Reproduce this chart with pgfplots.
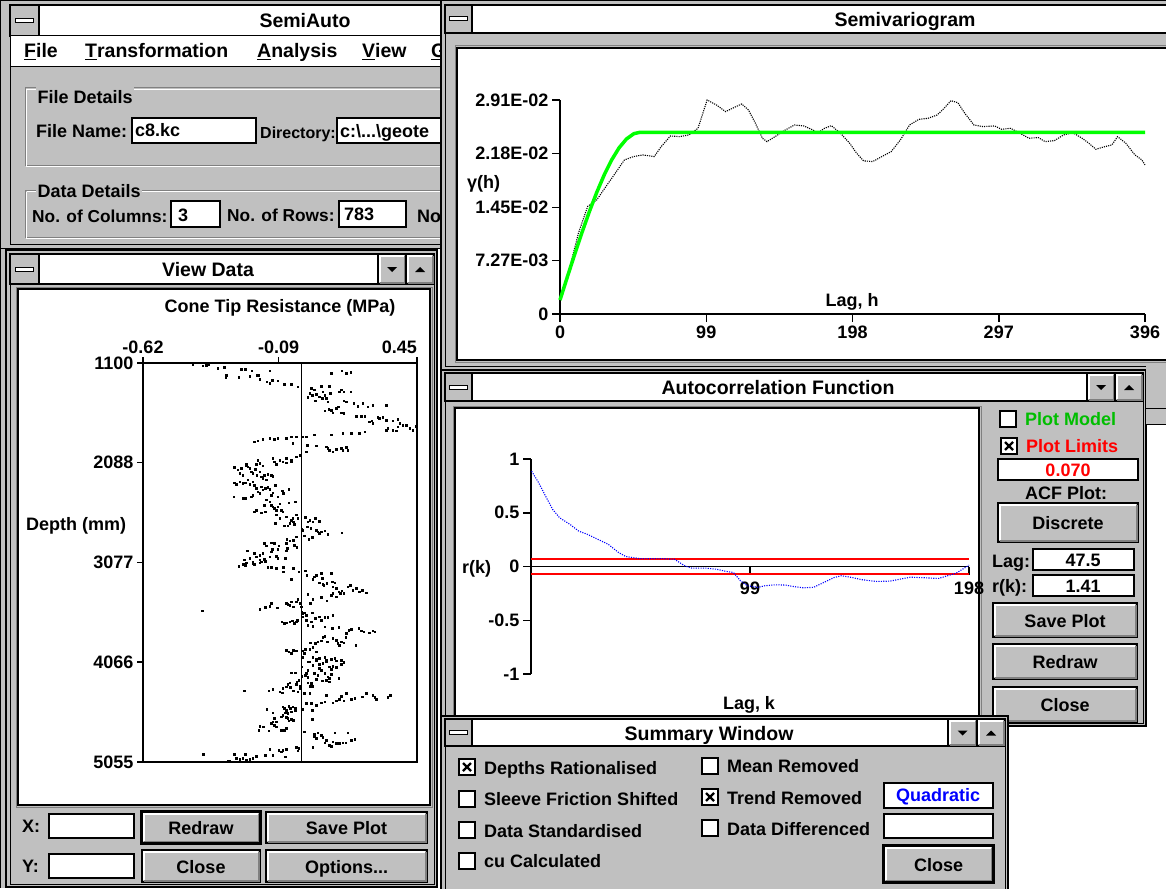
\documentclass[border=0pt]{standalone}
\usepackage{fontspec}
\setmainfont{Liberation Sans}
\usepackage{pgfplots}
\pgfplotsset{compat=1.18}
\definecolor{wgrey}{RGB}{192,192,192}
\definecolor{wdark}{RGB}{128,128,128}
\definecolor{mgreen}{RGB}{0,255,0}
\definecolor{tgreen}{RGB}{0,190,0}
\newcommand\tf{\fontsize{18}{21}\selectfont\bfseries}
\newcommand\tif{\fontsize{19.5}{23}\selectfont\bfseries}
\newcommand\mf{\fontsize{19.5}{23}\selectfont\bfseries}
\tikzset{px/.style={x=1pt,y=-1pt},
  t/.style={font=\tf,inner sep=0pt,anchor=base west},
  tc/.style={font=\tf,inner sep=0pt,anchor=base},
  ttl/.style={font=\tif,inner sep=0pt,anchor=base}}
\newcommand\frm[8]{\draw[line width=1.2pt,fill=wgrey] (#1,#2) rectangle (#3,#4);
  \draw[line width=1pt] (#5,#6) rectangle (#7,#8);}
\newcommand\tbar[4]{\draw[line width=1.2pt,fill=white] (#1,#2) rectangle (#3,#4);}
\newcommand\sysbox[4]{\draw[line width=1.2pt,fill=wgrey] (#1,#2) rectangle (#3,#4);
  \draw[line width=1pt,fill=white] ({(#1+#3)/2-9},{(#2+#4)/2-2}) rectangle ({(#1+#3)/2+9},{(#2+#4)/2+2});}
\newcommand\raised[4]{\draw[line width=1.2pt,fill=wgrey] (#1,#2) rectangle (#3,#4);
  \draw[white,line width=2pt] (#1+2,#4-2)--(#1+2,#2+2)--(#3-2,#2+2);
  \draw[wdark,line width=2pt] (#1+2,#4-1.5)--(#3-1.5,#4-1.5)--(#3-1.5,#2+2);}
\newcommand\dnbtn[4]{\raised{#1}{#2}{#3}{#4}
  \fill ({(#1+#3)/2-5},{(#2+#4)/2-2}) -- ++(10,0) -- ++(-5,5) -- cycle;}
\newcommand\upbtn[4]{\raised{#1}{#2}{#3}{#4}
  \fill ({(#1+#3)/2-5},{(#2+#4)/2+3}) -- ++(10,0) -- ++(-5,-5) -- cycle;}
\newcommand\btn[5]{\raised{#1}{#2}{#3}{#4}
  \node[tc] at ({(#1+#3)/2},{(#2+#4)/2+7}) {#5};}
\newcommand\dbtn[5]{\btn{#1}{#2}{#3}{#4}{#5}\draw[line width=2.4pt] (#1-0.5,#2-0.5) rectangle (#3+0.5,#4+0.5);}
\newcommand\tbox[4]{\draw[line width=1.2pt,fill=white] (#1,#2) rectangle (#3,#4);}
\newcommand\cbox[2]{\draw[line width=1.2pt,fill=white] (#1,#2) rectangle ++(16,16);}
\newcommand\cboxx[2]{\cbox{#1}{#2}\draw[line width=2.2pt] (#1+4,#2+4) -- ++(8,8) (#1+12,#2+4) -- ++(-8,8);}
\newcommand\gbox[4]{\draw[wdark,line width=1pt] (#1,#2) rectangle (#3,#4);
  \draw[white,line width=1pt] (#1+1.5,#2+1.5) -- (#3+1.5,#2+1.5) (#1+1.5,#2+1.5) -- (#1+1.5,#4+1.5) -- (#3+1.5,#4+1.5);}
\begin{document}
\begin{tikzpicture}
\begin{scope}[px]
\fill[white] (0,0) rectangle (1166,888);
\fill[wgrey] (0,249) rectangle (6,888);
\draw[line width=1pt] (0,249) -- (0,888);
% ---------- SemiAuto window
\frm{0.6}{0.6}{470}{248.4}{10}{5}{466}{244}
\tbar{10}{5}{470}{36}
\sysbox{10}{5}{39}{36}
\node[ttl] at (305,28) {SemiAuto};
\draw[line width=1pt,fill=white] (10,36) rectangle (470,67);
\node[t,font=\mf] at (24,58) {\underline{F}ile};
\node[t,font=\mf] at (85,58) {\underline{T}ransformation};
\node[t,font=\mf] at (257,58) {\underline{A}nalysis};
\node[t,font=\mf] at (362,58) {\underline{V}iew};
\node[t,font=\mf] at (431,58) {\underline{G}};
\gbox{25}{88}{470}{165}
\node[t,fill=wgrey,inner xsep=1.5pt,inner ysep=3pt] at (36,103) {File Details};
\node[t] at (36,137) {File Name:};
\tbox{132}{118}{256}{143}
\node[t] at (135,136) {c8.kc};
\node[t,font=\fontsize{16}{19}\selectfont\bfseries] at (260,138) {Directory:};
\tbox{337}{118}{470}{143}
\node[t] at (340,137) {c:\textbackslash...\textbackslash geote};
\gbox{25}{190}{470}{237}
\node[t,fill=wgrey,inner xsep=1.5pt,inner ysep=2pt] at (36,197) {Data Details};
\node[t,font=\fontsize{17.3}{20}\selectfont\bfseries] at (32,222) {No. of Columns:};
\tbox{171}{201}{220}{227}
\node[t] at (178,221) {3};
\node[t,font=\fontsize{17.3}{20}\selectfont\bfseries] at (227,221) {No. of Rows:};
\tbox{339}{201}{406}{227}
\node[t] at (344,220) {783};
\node[t] at (417,222) {No};
% ---------- View Data window
\frm{6}{250}{437}{887}{10}{254}{434}{884}
\tbar{10}{254}{434}{284}
\sysbox{10}{254}{39}{284}
\dnbtn{378}{254}{406}{284}
\upbtn{406}{254}{434}{284}
\node[ttl] at (208,276) {View Data};
\draw[wdark,line width=1pt] (16,287) rectangle (432,807);
\draw[line width=1.5pt,fill=white] (18,289) rectangle (430,805);
\node[tc] at (280,312) {Cone Tip Resistance (MPa)};
\node[t] at (26,530) {Depth (mm)};
\node[t] at (22,832) {X:};
\tbox{49}{814}{134}{838}
\dbtn{142}{812}{260}{843}{Redraw}
\btn{266}{812}{427}{843}{Save Plot}
\node[t] at (22,872) {Y:};
\tbox{49}{854}{134}{878}
\btn{142}{850}{260}{882}{Close}
\btn{266}{850}{427}{882}{Options...}
\end{scope}
% ---------- View Data plot
\begin{axis}[at={(143pt,-762pt)}, anchor=south west, scale only axis,
  width=274pt, height=399pt,
  xmin=-0.62, xmax=0.45, ymin=1100, ymax=5055, y dir=reverse,
  axis line style={line width=1.5pt},
  xtick={-0.62,-0.09,0.45}, xticklabels={-0.62,-0.09,{\makebox[0pt][r]{0.45}}},
  xtick pos=right, xticklabel pos=right,
  ytick={1100,2088,3077,4066,5055}, yticklabels={1100,2088,3077,4066,5055},
  ytick pos=left,
  tick align=outside, major tick length=6pt,
  every tick/.style={black,line width=1.5pt},
  tick label style={font=\tf},
  clip=false]
\addplot[black,line width=1.3pt] coordinates {(0,1100) (0,5055)};
\addplot[only marks, mark=square*, mark size=0.75pt, black] coordinates {
(-0.426,1110)(-0.387,1129)(-0.374,1120)(-0.365,1110)(-0.328,1153)(-0.302,1143)(-0.296,1219)(-0.298,1242)(-0.247,1242)(-0.237,1159)(-0.220,1159)(-0.204,1229)(-0.195,1176)(-0.176,1219)(-0.168,1219)(-0.165,1262)(-0.126,1176)(-0.137,1285)(-0.126,1301)(-0.116,1268)(-0.094,1275)(-0.068,1308)(-0.042,1308)(-0.016,1334)
(0.115,1202)(0.156,1176)(0.173,1202)(0.191,1189)(0.036,1351)(0.049,1367)(0.030,1400)(0.040,1417)(0.056,1407)(0.076,1328)(0.082,1384)(0.089,1417)(0.095,1450)(0.108,1328)(0.111,1400)(0.023,1440)(0.053,1473)(0.069,1433)(0.079,1450)(0.102,1483)(0.147,1384)(0.154,1367)(0.164,1384)(0.191,1384)(0.164,1473)(0.173,1483)(0.203,1500)(0.219,1526)(0.238,1500)(0.258,1533)(0.277,1516)(0.329,1516)(0.089,1572)(0.105,1559)(0.115,1566)(0.121,1592)(0.134,1549)(0.143,1533)(0.154,1592)(0.163,1599)(0.212,1625)(0.232,1625)(0.245,1625)(0.264,1681)(0.273,1671)(0.277,1698)(0.297,1638)(0.303,1648)(0.316,1638)(0.329,1665)(0.355,1671)(0.375,1658)(0.382,1698)(0.395,1714)(0.408,1714)(0.421,1747)(0.434,1764)(0.444,1724)(0.329,1764)(0.336,1747)(0.355,1764)(0.375,1731)(0.368,1770)
(-0.185,1880)(-0.172,1870)(-0.152,1856)(-0.126,1846)(-0.107,1856)(-0.094,1846)(-0.061,1846)(-0.042,1830)(-0.035,1896)(-0.022,1830)(0.004,1830)(0.017,1830)(0.049,1813)(0.115,1813)(0.160,1797)(0.193,1797)(0.225,1797)(0.245,1780)
(0.021,1913)(0.056,1922)(0.095,1929)(0.102,1946)(0.108,1962)(0.121,1979)(0.134,1955)(0.154,1946)(0.160,1962)(0.173,1936)(0.180,1962)(0.017,1979)
(-0.217,2101)(-0.172,2061)(-0.165,2094)(-0.113,2045)(-0.107,2078)(-0.087,2061)(-0.074,2078)(-0.061,2045)(-0.042,2061)(-0.022,2028)(-0.009,2012)
(-0.107,2078)(-0.100,2101)(-0.074,2078)(-0.061,2087)(-0.042,2071)(-0.178,2101)(-0.165,2094)(-0.152,2120)
(-0.263,2134)(-0.250,2160)(-0.243,2193)(-0.237,2144)(-0.230,2210)(-0.217,2111)(-0.211,2127)(-0.204,2144)(-0.198,2177)(-0.191,2193)(-0.181,2154)(-0.176,2210)(-0.165,2177)(-0.159,2226)(-0.146,2210)(-0.133,2200)(-0.120,2210)(-0.113,2220)(-0.139,2259)(-0.152,2243)
(-0.263,2286)(-0.257,2299)(-0.243,2276)(-0.230,2292)(-0.220,2286)(-0.211,2259)(-0.204,2299)(-0.191,2276)(-0.185,2309)(-0.178,2342)(-0.172,2375)(-0.165,2391)(-0.159,2325)(-0.152,2358)(-0.142,2342)(-0.133,2332)(-0.126,2352)(-0.120,2408)(-0.113,2385)(-0.103,2309)(-0.094,2424)(-0.077,2365)(-0.072,2391)(-0.051,2352)
(-0.266,2424)(-0.230,2441)(-0.220,2441)(-0.198,2424)(-0.191,2408)(-0.139,2457)(-0.126,2474)(-0.120,2507)(-0.113,2524)(-0.107,2540)(-0.100,2557)(-0.094,2524)(-0.087,2497)(-0.081,2557)(-0.074,2573)(-0.051,2484)(-0.025,2474)(-0.146,2507)(-0.178,2557)(-0.185,2573)(-0.159,2583)(-0.142,2573)
(-0.100,2606)(-0.103,2689)(-0.087,2639)(-0.061,2623)(-0.068,2715)(-0.055,2715)(-0.048,2689)(-0.042,2656)(-0.035,2639)(-0.033,2672)(-0.029,2699)(-0.022,2606)(-0.016,2639)
(0.014,2629)(0.023,2672)(0.030,2656)(0.043,2672)(0.052,2639)(0.069,2666)(0.021,2722)(0.034,2738)(0.056,2755)(0.063,2771)(0.069,2788)(0.076,2771)(0.089,2761)(0.102,2795)(0.156,2781)(0.004,2755)(0.000,2748)(0.010,2814)(0.027,2844)(0.040,2828)
(-0.022,2821)(-0.033,2854)(-0.048,2861)(-0.059,2847)(-0.061,2887)(-0.029,2904)(-0.020,2927)(-0.057,2937)(-0.061,2960)(-0.090,2913)(-0.094,2946)(-0.107,2887)(-0.120,2880)(-0.146,2887)(-0.139,2913)(-0.116,2946)(-0.120,2970)(-0.152,2986)(-0.165,3003)(-0.178,3019)(-0.185,2986)(-0.214,2960)(-0.204,3036)(-0.224,3052)(-0.217,3079)(-0.191,3069)(-0.165,3052)(-0.146,3046)(-0.126,3019)(-0.100,3013)(-0.094,3036)(-0.065,3036)
(-0.246,3112)(-0.228,3093)(-0.220,3103)(-0.215,3079)(-0.191,3086)(-0.185,3093)(-0.165,3079)(-0.159,3070)(-0.142,3063)(-0.133,3126)(-0.120,3126)(-0.100,3136)(-0.072,3126)(-0.072,3169)(-0.033,3136)(-0.012,3169)(-0.042,3245)
(0.014,3159)(0.020,3202)(0.043,3245)(0.049,3218)(0.056,3202)(0.076,3185)(0.079,3235)(0.082,3291)(0.069,3278)(0.085,3301)(0.098,3284)(0.115,3185)(0.118,3268)(0.128,3278)(0.121,3317)(0.134,3334)(0.145,3367)(0.151,3383)(0.156,3357)(0.163,3383)(0.180,3317)(0.189,3301)(0.199,3350)(0.212,3334)(0.225,3367)(0.251,3377)(0.236,3350)(0.121,3383)(0.115,3400)(0.134,3416)(0.076,3423)(0.043,3443)(0.033,3483)(0.023,3390)(0.098,3456)
(-0.389,3555)(-0.165,3542)(-0.142,3522)(-0.126,3509)(-0.120,3483)(-0.096,3525)(-0.061,3483)(-0.055,3489)(-0.048,3499)(-0.042,3466)(-0.033,3516)(-0.022,3466)(-0.016,3443)(-0.009,3483)(-0.003,3516)(0.000,3565)(0.004,3582)(0.010,3575)(0.017,3598)(0.004,3615)(0.040,3575)(-0.078,3664)(-0.068,3681)(-0.059,3674)(-0.048,3664)(-0.038,3654)(-0.029,3681)(-0.022,3664)(-0.018,3648)
(0.017,3648)(0.036,3664)(0.053,3631)(0.069,3615)(0.076,3648)(0.089,3621)(0.102,3621)(0.121,3598)(0.023,3697)(0.043,3707)(0.089,3714)(0.118,3730)(0.145,3720)(0.173,3780)(0.184,3747)(0.193,3740)(0.223,3730)(0.232,3753)(0.241,3763)(0.264,3773)(0.277,3753)(0.284,3763)(0.089,3806)(0.082,3820)(0.076,3853)(0.063,3862)(0.053,3879)(0.033,3872)(0.043,3919)(0.014,3938)(0.099,3862)(0.121,3829)(0.134,3846)(0.141,3879)(0.147,3896)(0.154,3862)(0.171,3820)(0.163,3872)(0.210,3896)
(-0.061,3945)(-0.051,3962)(-0.042,3978)(-0.033,3945)(-0.022,3952)(0.004,3952)(0.010,3978)(0.030,3938)(0.056,3962)(0.043,4018)(0.056,4038)(0.069,4028)(0.089,4018)(0.095,4044)(0.115,4038)(0.128,4028)(0.134,4051)(0.154,4044)(0.163,4061)(0.004,4018)(0.023,4061)(0.082,4077)
(0.030,4061)(0.043,4094)(0.056,4051)(0.069,4084)(0.082,4070)(0.095,4061)(0.108,4110)(0.115,4137)(0.121,4103)(0.134,4117)(0.154,4084)(0.163,4070)(0.069,4127)(0.076,4143)(0.089,4176)(0.102,4209)(0.108,4226)(0.095,4242)(0.079,4249)(0.056,4236)(0.036,4275)(0.023,4269)(0.017,4176)(0.023,4143)(0.014,4193)(0.023,4216)(0.049,4176)(0.063,4193)(0.145,4226)(0.115,4183)(0.108,4259)(0.043,4302)(0.030,4302)
(-0.042,4170)(-0.025,4170)(-0.020,4259)(-0.012,4242)(-0.022,4282)(-0.009,4302)(-0.048,4269)(-0.055,4282)(-0.046,4315)(-0.061,4308)(-0.074,4325)(-0.087,4358)(-0.077,4368)(-0.113,4335)(-0.129,4348)(-0.224,4348)(-0.033,4348)(-0.016,4358)(-0.009,4325)(0.000,4203)(0.000,4110)
(0.010,4374)(0.030,4374)(0.040,4302)(0.017,4474)(0.036,4474)(0.056,4490)(0.076,4467)(0.089,4457)(0.095,4391)(0.121,4467)(0.134,4447)(0.147,4434)(0.154,4401)(0.163,4447)(0.173,4374)(0.193,4434)(0.206,4424)(0.236,4407)(0.251,4374)(0.277,4391)(0.284,4414)(0.290,4434)(0.336,4414)(0.345,4391)(0.001,4533)(0.040,4540)(0.040,4632)
(-0.074,4507)(-0.068,4523)(-0.061,4540)(-0.051,4500)(-0.046,4523)(-0.035,4507)(-0.025,4523)(-0.025,4546)(-0.042,4556)(-0.055,4573)(-0.064,4566)(-0.074,4589)(-0.081,4606)(-0.061,4612)(-0.055,4622)(-0.051,4645)(-0.042,4632)(-0.033,4639)(-0.113,4566)(-0.137,4533)(-0.107,4622)(-0.100,4655)(-0.113,4655)(-0.120,4672)(-0.107,4688)(-0.100,4705)(-0.061,4721)(-0.068,4738)(-0.081,4738)(-0.129,4744)(-0.165,4698)(-0.168,4738)(-0.150,4705)
(0.010,4754)(0.049,4777)(0.063,4764)(0.076,4787)(0.049,4804)(0.056,4820)(0.082,4811)(0.095,4837)(0.089,4863)(0.108,4886)(0.115,4896)(0.121,4853)(0.128,4764)(0.134,4870)(0.147,4870)(0.160,4863)(0.171,4863)(0.180,4764)(0.193,4837)(0.206,4830)(0.043,4910)
(-0.022,4910)(-0.012,4920)(-0.016,4943)(-0.061,4929)(-0.074,4936)(-0.081,4953)(-0.090,4936)(-0.126,4929)(-0.142,4986)(-0.113,4986)(-0.065,5002)(-0.178,4996)(-0.191,5019)(-0.204,5029)(-0.217,5035)(-0.230,5019)(-0.243,5029)(-0.257,5019)(-0.263,4976)(-0.283,5048)(-0.289,5048)(-0.220,4976)(-0.384,4976)
};
\end{axis}
% ---------- Semivariogram window
\begin{scope}[px]
\frm{441}{0.6}{1180}{370}{445}{5}{1176}{366}
\tbar{445}{5}{1180}{33}
\sysbox{445}{5}{472}{33}
\node[ttl] at (905,27) {Semivariogram};
\draw[wdark,line width=1pt] (455,46) rectangle (1180,362);
\draw[line width=1.5pt,fill=white] (457,48) rectangle (1180,360);
\end{scope}
\begin{axis}[at={(560pt,-314pt)}, anchor=south west, scale only axis,
  width=585pt, height=214pt,
  xmin=0, xmax=396, ymin=0, ymax=0.0291,
  axis x line=bottom, axis y line=left,
  axis line style={-, line width=1.5pt},
  xtick={0,99,198,297,396}, xticklabels={0,99,198,297,396},
  ytick={0,0.00727,0.0145,0.0218,0.0291},
  yticklabels={0,7.27E-03,1.45E-02,2.18E-02,2.91E-02},
  scaled y ticks=false,
  tick align=outside, major tick length=8pt,
  every tick/.style={black,line width=1.5pt},
  tick label style={font=\tf},
  clip=false]
\addplot[black, line width=1.1pt, dash pattern=on 1.1pt off 1.1pt] coordinates {
(0,0.00195)(6.2,0.00602)(12.5,0.0110)(18.7,0.01462)(24.9,0.01552)(31.1,0.01733)(37.4,0.01914)(43.6,0.02095)(49.8,0.02141)(56.0,0.02163)(63.8,0.02141)(68.5,0.02276)(74.7,0.02421)(80.9,0.02412)(87.2,0.02435)(93.4,0.02525)(99.6,0.0291)(105.9,0.02842)(112.1,0.02752)(116.7,0.02797)(123,0.02856)(127.6,0.02774)(132.3,0.02593)(137,0.0239)(140.1,0.02344)(146.3,0.02421)(152.5,0.02503)(158.8,0.0257)(165,0.02557)(171.2,0.02503)(174.3,0.02457)(179,0.02525)(183.7,0.02561)(189.9,0.02457)(196.1,0.02322)(200.8,0.02186)(205.5,0.02082)(211.7,0.02073)(217.9,0.02141)(224.2,0.02209)(230.4,0.02367)(236.6,0.0257)(242.9,0.02647)(249.1,0.02661)(255.3,0.02706)(260,0.02797)(264.6,0.02901)(269.3,0.02874)(274,0.02729)(280.2,0.0257)(286.4,0.02548)(294.2,0.02557)(298.9,0.02512)(305.1,0.02525)(311.3,0.02457)(317.5,0.0239)(323.8,0.02399)(328.4,0.02344)(334.7,0.02358)(340.9,0.02435)(347.1,0.02466)(353.4,0.0239)(358,0.02322)(362.7,0.0224)(368.9,0.02276)(373.6,0.02299)(377.4,0.02412)(383,0.02322)(389.2,0.02163)(393.9,0.02095)(396,0.02027)};
\addplot[mgreen, line width=3.5pt] coordinates {
(0,0.0019)(5,0.00506)(10,0.00816)(15,0.01116)(20,0.01399)(25,0.0166)(30,0.01895)(35,0.02096)(40,0.0226)(45,0.0238)(50,0.02452)(54,0.0247)(396,0.0247)};
\end{axis}
\begin{scope}[px]
\node[tc] at (852,306) {Lag, h};
\node[t] at (467,188) {γ(h)};
% ---------- ACF window
\frm{441}{370}{1146}{726}{445}{373}{1143}{723}
\tbar{445}{373}{1143}{401}
\sysbox{445}{373}{472}{401}
\dnbtn{1087}{373}{1115}{401}
\upbtn{1115}{373}{1143}{401}
\node[ttl] at (778,394) {Autocorrelation Function};
\fill[wgrey] (1146,366) rectangle (1166,424);
\draw[line width=1pt] (1146,408)--(1166,408) (1146,424)--(1166,424);
\draw[wdark,line width=1pt] (453,406) rectangle (981,720);
\draw[line width=1.5pt,fill=white] (455,408) rectangle (979,718);
\cbox{1000}{411}
\node[t,tgreen] at (1025,425) {Plot Model};
\cboxx{1001}{438}
\node[t,red] at (1026,452) {Plot Limits};
\tbox{998}{459}{1138}{480}
\node[tc,red] at (1068,476) {0.070};
\node[tc] at (1066,499) {ACF Plot:};
\btn{998}{503}{1138}{542}{Discrete}
\node[t] at (992,567) {Lag:};
\tbox{1033}{549}{1134}{570}
\node[tc] at (1083,566) {47.5};
\node[t] at (992,592) {r(k):};
\tbox{1033}{575}{1134}{596}
\node[tc] at (1083,592) {1.41};
\btn{993}{603}{1137}{637}{Save Plot}
\btn{993}{644}{1137}{679}{Redraw}
\btn{993}{687}{1137}{722}{Close}
\end{scope}
\begin{axis}[at={(531pt,-674pt)}, anchor=south west, scale only axis,
  width=438pt, height=215pt,
  xmin=0, xmax=198, ymin=-1, ymax=1,
  axis x line=middle, axis y line=left,
  axis line style={-, line width=1.5pt},
  hide obscured x ticks=false, hide obscured y ticks=false,
  xtick={99,198}, xticklabels={99,198},
  ytick={-1,-0.5,0,0.5,1}, yticklabels={-1,-0.5,0,0.5,1},
  tick align=outside, major tick length=8pt,
  every tick/.style={black,line width=1.5pt},
  tick label style={font=\tf},
  x tick label style={yshift=-4pt},
  clip=false]
\addplot[red, line width=2pt] coordinates {(0,0.07) (198,0.07)};
\addplot[red, line width=2pt] coordinates {(0,-0.07) (198,-0.07)};
\addplot[blue, line width=1.1pt, dash pattern=on 1.1pt off 1.3pt] coordinates {
(0.3,0.886)(3.5,0.778)(6.6,0.654)(9.8,0.531)(12.9,0.454)(17.6,0.392)(21.5,0.330)(25.5,0.299)(30.2,0.253)(34.9,0.207)(39.6,0.130)(42.8,0.093)(49.1,0.074)(58.5,0.074)(64.8,0.068)(69.5,0.006)(72.7,-0.015)(79.0,-0.015)(83.7,-0.025)(88.4,-0.046)(91.5,-0.056)(94.7,-0.133)(97.8,-0.179)(102.5,-0.194)(105.7,-0.179)(110.4,-0.170)(115.1,-0.173)(118.3,-0.185)(123,-0.198)(127.7,-0.194)(132.4,-0.148)(137.1,-0.102)(140.3,-0.086)(145,-0.102)(149.7,-0.123)(156,-0.139)(162.3,-0.136)(167,-0.117)(171.7,-0.099)(178,-0.105)(184.3,-0.111)(188.3,-0.086)(192.2,-0.062)(196.1,-0.012)(198,0.012)};
\end{axis}
\begin{scope}[px]
\node[t] at (462,573) {r(k)};
\node[tc] at (749,709) {Lag, k};
% ---------- Summary window
\frm{441}{716}{1008}{892}{445}{719}{1005}{892}
\tbar{445}{719}{1005}{746}
\sysbox{445}{719}{472}{746}
\dnbtn{948}{719}{977}{746}
\upbtn{977}{719}{1005}{746}
\node[ttl] at (709,740) {Summary Window};
\cboxx{459}{759}
\node[t] at (484,774) {Depths Rationalised};
\cbox{459}{791}
\node[t] at (484,805) {Sleeve Friction Shifted};
\cbox{459}{822}
\node[t] at (484,837) {Data Standardised};
\cbox{459}{853}
\node[t] at (484,867) {cu Calculated};
\cbox{702}{758}
\node[t] at (727,772) {Mean Removed};
\cboxx{702}{789}
\node[t] at (727,804) {Trend Removed};
\cbox{702}{820}
\node[t] at (727,835) {Data Differenced};
\tbox{884}{783}{993}{808}
\node[tc,blue] at (938,801) {Quadratic};
\tbox{884}{814}{993}{838}
\dbtn{884}{846}{993}{882}{Close}
\pgfresetboundingbox
\path[use as bounding box] (0,0) rectangle (1166,888);
\end{scope}
\end{tikzpicture}
\end{document}
